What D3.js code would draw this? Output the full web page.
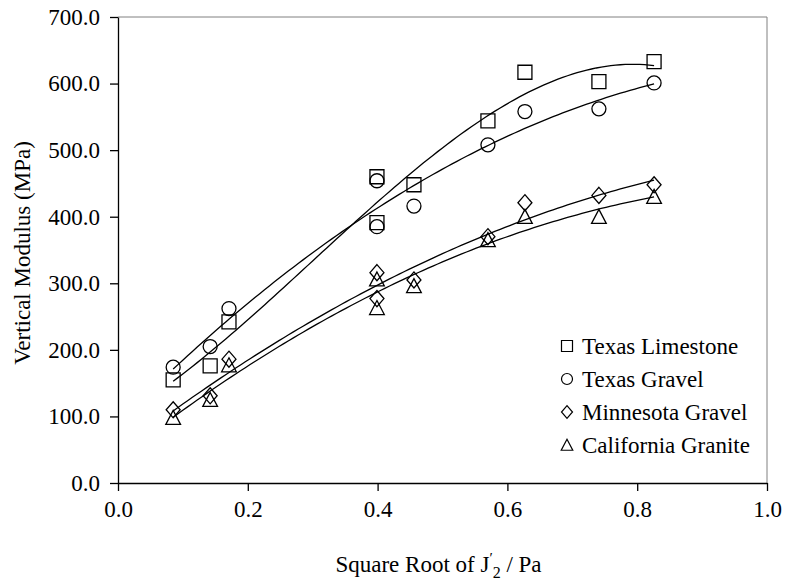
<!DOCTYPE html>
<html>
<head>
<meta charset="utf-8">
<script src="https://cdn.jsdelivr.net/npm/d3@7"></script>
<style>
  body { margin: 0; background: #fff; }
</style>
</head>
<body>
<div id="chart"></div>
<script>
// square root of J'2 / Pa
const xVals = [0.085, 0.142, 0.171, 0.399, 0.399, 0.456, 0.570, 0.627, 0.741, 0.826];

const texasLimestone = [155, 176, 242, 460, 391, 448, 544, 617, 603, 633];
const texasGravel = [174, 205, 262, 454, 385, 416, 508, 558, 562, 601];
const minnesotaGravel = [110, 131, 186, 316, 277, 305, 370, 421, 432, 448];
const californiaGranite = [98, 125, 177, 306, 263, 296, 365, 400, 400, 430];

const seriesNames = ['Texas Limestone', 'Texas Gravel', 'Minnesota Gravel', 'California Granite'];
const seriesValues = [texasLimestone, texasGravel, minnesotaGravel, californiaGranite];
const seriesShapes = ['square', 'circle', 'diamond', 'triangle'];
const fitOrder = [3, 2, 2, 2];

const xTicks = [0, 0.2, 0.4, 0.6, 0.8, 1.0];
const yTicks = [0, 100, 200, 300, 400, 500, 600, 700];

const W = 785, H = 580;
const margin = { left: 118, right: 18, top: 17, bottom: 97 };
const width = W - margin.left - margin.right;
const height = H - margin.top - margin.bottom;
const serif = "'Liberation Serif', 'DejaVu Serif', serif";

const svg = d3.select('#chart').append('svg')
  .attr('width', W)
  .attr('height', H)
  .attr('font-family', serif);

const g = svg.append('g')
  .attr('transform', `translate(${margin.left}, ${margin.top})`);

const x = d3.scaleLinear().domain([0, 1]).range([0, width]);
const y = d3.scaleLinear().domain([0, 700]).range([height, 0]);

// plot frame: grey top/right
g.append('path')
  .attr('d', `M0,0H${width}V${height}`)
  .attr('fill', 'none')
  .attr('stroke', '#808080')
  .attr('stroke-width', 1);

const xAxis = g.append('g')
  .attr('transform', `translate(0, ${height})`)
  .call(d3.axisBottom(x).tickValues(xTicks).tickFormat(d3.format('.1f')).tickSizeInner(8).tickSizeOuter(0).tickPadding(10));

const yAxis = g.append('g')
  .call(d3.axisLeft(y).tickValues(yTicks).tickFormat(d3.format('.1f')).tickSizeInner(8).tickSizeOuter(0).tickPadding(10));

[xAxis, yAxis].forEach(a => {
  a.attr('font-family', serif).attr('font-size', 23);
  a.selectAll('path, line').attr('stroke', '#000').attr('stroke-width', 1.3);
  a.selectAll('text').attr('fill', '#000');
});

// axis titles
const xLabel = svg.append('text')
  .attr('x', margin.left + width / 2 - 4)
  .attr('y', 572)
  .attr('font-size', 23)
  .attr('text-anchor', 'middle');
xLabel.append('tspan').text('Square Root of J');
xLabel.append('tspan').attr('font-size', 15).attr('dy', -9).text('\u2032');
xLabel.append('tspan').attr('font-size', 16).attr('dy', 15).text('2');
xLabel.append('tspan').attr('dy', -6).text(' / Pa');

svg.append('text')
  .attr('transform', `translate(30, ${margin.top + height / 2 + 3}) rotate(-90)`)
  .attr('font-size', 23)
  .attr('text-anchor', 'middle')
  .text('Vertical Modulus (MPa)');

// marker paths
function marker(shape, s) {
  if (shape === 'square') return `M${-s},${-s}H${s}V${s}H${-s}Z`;
  if (shape === 'circle') return `M${-s},0A${s},${s} 0 1,0 ${s},0A${s},${s} 0 1,0 ${-s},0Z`;
  if (shape === 'diamond') return `M0,${-s * 1.15}L${s},0L0,${s * 1.15}L${-s},0Z`;
  return `M0,${-s * 1.05}L${s * 1.05},${s * 0.95}H${-s * 1.05}Z`;
}

// least squares polynomial trendline
function polyfit(xs, ys, order) {
  const n = order + 1;
  const A = Array.from({ length: n }, () => new Array(n + 1).fill(0));
  for (let k = 0; k < xs.length; k++) {
    for (let i = 0; i < n; i++) {
      for (let j = 0; j < n; j++) A[i][j] += Math.pow(xs[k], i + j);
      A[i][n] += ys[k] * Math.pow(xs[k], i);
    }
  }
  for (let i = 0; i < n; i++) {
    let p = i;
    for (let r = i + 1; r < n; r++) if (Math.abs(A[r][i]) > Math.abs(A[p][i])) p = r;
    [A[i], A[p]] = [A[p], A[i]];
    for (let r = 0; r < n; r++) {
      if (r === i) continue;
      const f = A[r][i] / A[i][i];
      for (let c = i; c <= n; c++) A[r][c] -= f * A[i][c];
    }
  }
  return A.map((row, i) => row[n] / row[i]);
}

const line = d3.line().x(d => x(d[0])).y(d => y(d[1]));
const xMin = d3.min(xVals), xMax = d3.max(xVals);

seriesValues.forEach((vals, si) => {
  const coef = polyfit(xVals, vals, fitOrder[si]);
  const pts = d3.range(0, 101).map(i => {
    const xv = xMin + (xMax - xMin) * i / 100;
    return [xv, coef.reduce((s, c, p) => s + c * Math.pow(xv, p), 0)];
  });
  g.append('path')
    .datum(pts)
    .attr('d', line)
    .attr('fill', 'none')
    .attr('stroke', '#000')
    .attr('stroke-width', 1.3);
});

seriesValues.forEach((vals, si) => {
  g.selectAll(`.pt-${si}`)
    .data(vals.map((v, i) => [xVals[i], v]))
    .enter()
    .append('path')
      .attr('class', `pt-${si}`)
      .attr('transform', d => `translate(${x(d[0])}, ${y(d[1])})`)
      .attr('d', marker(seriesShapes[si], 7))
      .attr('fill', 'none')
      .attr('stroke', '#000')
      .attr('stroke-width', 1.3);
});

// legend
const legend = svg.append('g').attr('transform', 'translate(567, 346)');
const legendRow = legend.selectAll('.legend-row')
  .data(seriesNames)
  .enter()
  .append('g')
    .attr('class', 'legend-row')
    .attr('transform', (d, i) => `translate(0, ${i * 33})`);

legendRow.append('path')
  .attr('d', (d, i) => marker(seriesShapes[i], 5.5))
  .attr('fill', 'none')
  .attr('stroke', '#000')
  .attr('stroke-width', 1.2);

legendRow.append('text')
  .attr('x', 15)
  .attr('y', 8)
  .attr('font-size', 23)
  .text(d => d);
</script>
</body>
</html>
